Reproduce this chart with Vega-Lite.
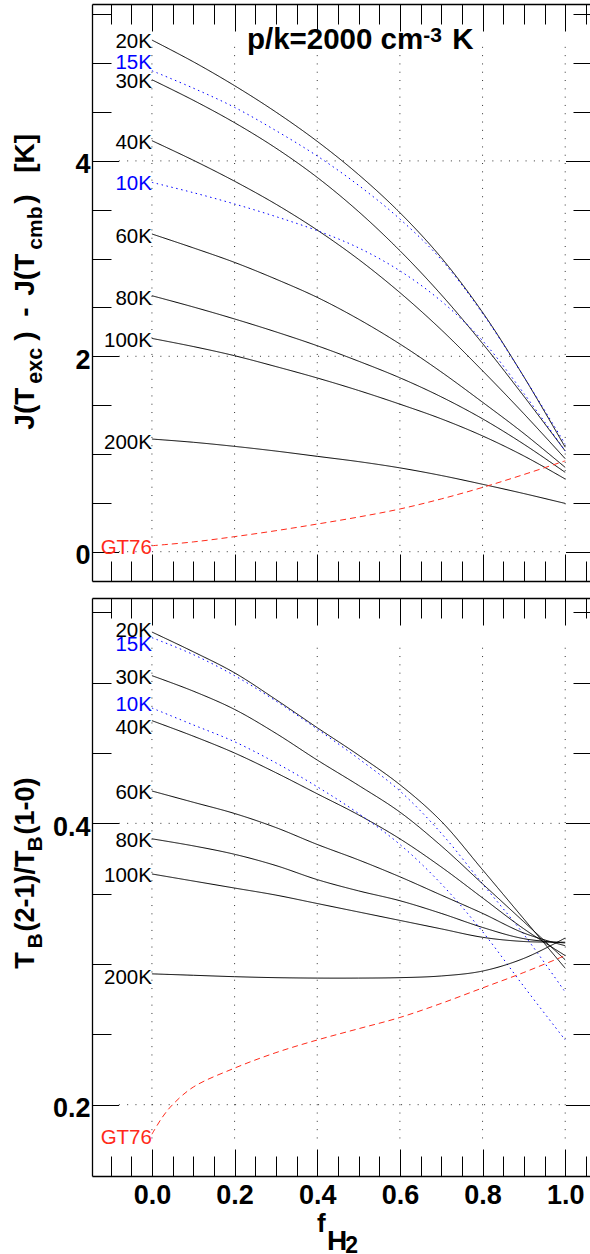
{
  "$schema": "https://vega.github.io/schema/vega-lite/v6.json",
  "background": "white",
  "padding": {"left": 12, "top": 3, "right": 0, "bottom": 0},
  "bounds": "flush",
  "spacing": 17,
  "config": {"view": {"stroke": null}, "font": "Liberation Sans"},
  "datasets": {
    "top": [
      {"s":"20K","f":0,"v":5.237},{"s":"20K","f":0.1,"v":5.015},{"s":"20K","f":0.2,"v":4.77},{"s":"20K","f":0.3,"v":4.50},{"s":"20K","f":0.4,"v":4.20},{"s":"20K","f":0.5,"v":3.86},{"s":"20K","f":0.6,"v":3.47},{"s":"20K","f":0.7,"v":3.01},{"s":"20K","f":0.8,"v":2.45},{"s":"20K","f":0.9,"v":1.79},{"s":"20K","f":1.0,"v":1.07},
      {"s":"15K","f":0,"v":4.923},{"s":"15K","f":0.1,"v":4.745},{"s":"15K","f":0.2,"v":4.548},{"s":"15K","f":0.3,"v":4.31},{"s":"15K","f":0.4,"v":4.05},{"s":"15K","f":0.5,"v":3.75},{"s":"15K","f":0.6,"v":3.405},{"s":"15K","f":0.7,"v":2.99},{"s":"15K","f":0.8,"v":2.44},{"s":"15K","f":0.9,"v":1.79},{"s":"15K","f":1.0,"v":1.10},
      {"s":"30K","f":0,"v":4.831},{"s":"30K","f":0.1,"v":4.621},{"s":"30K","f":0.2,"v":4.391},{"s":"30K","f":0.3,"v":4.131},{"s":"30K","f":0.4,"v":3.831},{"s":"30K","f":0.5,"v":3.481},{"s":"30K","f":0.6,"v":3.081},{"s":"30K","f":0.7,"v":2.631},{"s":"30K","f":0.8,"v":2.131},{"s":"30K","f":0.9,"v":1.591},{"s":"30K","f":1.0,"v":1.031},
      {"s":"40K","f":0,"v":4.207},{"s":"40K","f":0.1,"v":4.007},{"s":"40K","f":0.2,"v":3.792},{"s":"40K","f":0.3,"v":3.557},{"s":"40K","f":0.4,"v":3.292},{"s":"40K","f":0.5,"v":2.992},{"s":"40K","f":0.6,"v":2.652},{"s":"40K","f":0.7,"v":2.272},{"s":"40K","f":0.8,"v":1.852},{"s":"40K","f":0.9,"v":1.412},{"s":"40K","f":1.0,"v":0.952},
      {"s":"10K","f":0,"v":3.78},{"s":"10K","f":0.1,"v":3.675},{"s":"10K","f":0.2,"v":3.559},{"s":"10K","f":0.3,"v":3.43},{"s":"10K","f":0.4,"v":3.286},{"s":"10K","f":0.5,"v":3.11},{"s":"10K","f":0.6,"v":2.875},{"s":"10K","f":0.7,"v":2.565},{"s":"10K","f":0.8,"v":2.16},{"s":"10K","f":0.9,"v":1.62},{"s":"10K","f":1.0,"v":1.03},
      {"s":"60K","f":0,"v":3.252},{"s":"60K","f":0.1,"v":3.11},{"s":"60K","f":0.2,"v":2.961},{"s":"60K","f":0.3,"v":2.79},{"s":"60K","f":0.4,"v":2.603},{"s":"60K","f":0.5,"v":2.38},{"s":"60K","f":0.6,"v":2.126},{"s":"60K","f":0.7,"v":1.84},{"s":"60K","f":0.8,"v":1.53},{"s":"60K","f":0.9,"v":1.21},{"s":"60K","f":1.0,"v":0.863},
      {"s":"80K","f":0,"v":2.62},{"s":"80K","f":0.1,"v":2.505},{"s":"80K","f":0.2,"v":2.382},{"s":"80K","f":0.3,"v":2.25},{"s":"80K","f":0.4,"v":2.108},{"s":"80K","f":0.5,"v":1.95},{"s":"80K","f":0.6,"v":1.78},{"s":"80K","f":0.7,"v":1.585},{"s":"80K","f":0.8,"v":1.36},{"s":"80K","f":0.9,"v":1.10},{"s":"80K","f":1.0,"v":0.812},
      {"s":"100K","f":0,"v":2.183},{"s":"100K","f":0.1,"v":2.10},{"s":"100K","f":0.2,"v":2.006},{"s":"100K","f":0.3,"v":1.895},{"s":"100K","f":0.4,"v":1.778},{"s":"100K","f":0.5,"v":1.65},{"s":"100K","f":0.6,"v":1.51},{"s":"100K","f":0.7,"v":1.36},{"s":"100K","f":0.8,"v":1.185},{"s":"100K","f":0.9,"v":0.98},{"s":"100K","f":1.0,"v":0.744},
      {"s":"200K","f":0,"v":1.153},{"s":"200K","f":0.1,"v":1.12},{"s":"200K","f":0.2,"v":1.078},{"s":"200K","f":0.3,"v":1.03},{"s":"200K","f":0.4,"v":0.976},{"s":"200K","f":0.5,"v":0.922},{"s":"200K","f":0.6,"v":0.858},{"s":"200K","f":0.7,"v":0.78},{"s":"200K","f":0.8,"v":0.69},{"s":"200K","f":0.9,"v":0.595},{"s":"200K","f":1.0,"v":0.494},
      {"s":"GT76","f":0,"v":0.061},{"s":"GT76","f":0.1,"v":0.10},{"s":"GT76","f":0.2,"v":0.154},{"s":"GT76","f":0.3,"v":0.215},{"s":"GT76","f":0.4,"v":0.283},{"s":"GT76","f":0.5,"v":0.355},{"s":"GT76","f":0.6,"v":0.437},{"s":"GT76","f":0.7,"v":0.54},{"s":"GT76","f":0.8,"v":0.658},{"s":"GT76","f":0.9,"v":0.79},{"s":"GT76","f":1.0,"v":0.93}
    ],
    "bot": [
      {"s":"20K","f":0,"v":0.536},{"s":"20K","f":0.1,"v":0.522},{"s":"20K","f":0.2,"v":0.507},{"s":"20K","f":0.3,"v":0.488},{"s":"20K","f":0.4,"v":0.468},{"s":"20K","f":0.5,"v":0.4485},{"s":"20K","f":0.6,"v":0.4275},{"s":"20K","f":0.7,"v":0.4015},{"s":"20K","f":0.8,"v":0.367},{"s":"20K","f":0.9,"v":0.332},{"s":"20K","f":1.0,"v":0.297},
      {"s":"15K","f":0,"v":0.532},{"s":"15K","f":0.1,"v":0.520},{"s":"15K","f":0.2,"v":0.505},{"s":"15K","f":0.3,"v":0.487},{"s":"15K","f":0.4,"v":0.467},{"s":"15K","f":0.5,"v":0.446},{"s":"15K","f":0.6,"v":0.423},{"s":"15K","f":0.7,"v":0.393},{"s":"15K","f":0.8,"v":0.357},{"s":"15K","f":0.9,"v":0.321},{"s":"15K","f":1.0,"v":0.280},
      {"s":"30K","f":0,"v":0.505},{"s":"30K","f":0.1,"v":0.494},{"s":"30K","f":0.2,"v":0.481},{"s":"30K","f":0.3,"v":0.464},{"s":"30K","f":0.4,"v":0.445},{"s":"30K","f":0.5,"v":0.427},{"s":"30K","f":0.6,"v":0.408},{"s":"30K","f":0.7,"v":0.384},{"s":"30K","f":0.8,"v":0.357},{"s":"30K","f":0.9,"v":0.330},{"s":"30K","f":1.0,"v":0.303},
      {"s":"40K","f":0,"v":0.473},{"s":"40K","f":0.1,"v":0.462},{"s":"40K","f":0.2,"v":0.450},{"s":"40K","f":0.3,"v":0.436},{"s":"40K","f":0.4,"v":0.421},{"s":"40K","f":0.5,"v":0.406},{"s":"40K","f":0.6,"v":0.389},{"s":"40K","f":0.7,"v":0.369},{"s":"40K","f":0.8,"v":0.347},{"s":"40K","f":0.9,"v":0.325},{"s":"40K","f":1.0,"v":0.306},
      {"s":"10K","f":0,"v":0.482},{"s":"10K","f":0.1,"v":0.470},{"s":"10K","f":0.2,"v":0.458},{"s":"10K","f":0.3,"v":0.443},{"s":"10K","f":0.4,"v":0.426},{"s":"10K","f":0.5,"v":0.407},{"s":"10K","f":0.6,"v":0.385},{"s":"10K","f":0.7,"v":0.357},{"s":"10K","f":0.8,"v":0.323},{"s":"10K","f":0.9,"v":0.284},{"s":"10K","f":1.0,"v":0.246},
      {"s":"60K","f":0,"v":0.423},{"s":"60K","f":0.1,"v":0.415},{"s":"60K","f":0.2,"v":0.407},{"s":"60K","f":0.3,"v":0.397},{"s":"60K","f":0.4,"v":0.385},{"s":"60K","f":0.5,"v":0.374},{"s":"60K","f":0.6,"v":0.362},{"s":"60K","f":0.7,"v":0.349},{"s":"60K","f":0.8,"v":0.336},{"s":"60K","f":0.9,"v":0.322},{"s":"60K","f":1.0,"v":0.313},
      {"s":"80K","f":0,"v":0.389},{"s":"80K","f":0.1,"v":0.384},{"s":"80K","f":0.2,"v":0.378},{"s":"80K","f":0.3,"v":0.370},{"s":"80K","f":0.4,"v":0.360},{"s":"80K","f":0.5,"v":0.352},{"s":"80K","f":0.6,"v":0.345},{"s":"80K","f":0.7,"v":0.336},{"s":"80K","f":0.8,"v":0.326},{"s":"80K","f":0.9,"v":0.318},{"s":"80K","f":1.0,"v":0.315},
      {"s":"100K","f":0,"v":0.364},{"s":"100K","f":0.1,"v":0.359},{"s":"100K","f":0.2,"v":0.354},{"s":"100K","f":0.3,"v":0.349},{"s":"100K","f":0.4,"v":0.343},{"s":"100K","f":0.5,"v":0.337},{"s":"100K","f":0.6,"v":0.331},{"s":"100K","f":0.7,"v":0.325},{"s":"100K","f":0.8,"v":0.319},{"s":"100K","f":0.9,"v":0.316},{"s":"100K","f":1.0,"v":0.3155},
      {"s":"200K","f":0,"v":0.293},{"s":"200K","f":0.1,"v":0.292},{"s":"200K","f":0.2,"v":0.291},{"s":"200K","f":0.3,"v":0.2903},{"s":"200K","f":0.4,"v":0.290},{"s":"200K","f":0.5,"v":0.290},{"s":"200K","f":0.6,"v":0.2903},{"s":"200K","f":0.7,"v":0.2915},{"s":"200K","f":0.8,"v":0.295},{"s":"200K","f":0.9,"v":0.304},{"s":"200K","f":1.0,"v":0.3185},
      {"s":"GT76","f":0,"v":0.179},{"s":"GT76","f":0.025,"v":0.191},{"s":"GT76","f":0.05,"v":0.200},{"s":"GT76","f":0.1,"v":0.2125},{"s":"GT76","f":0.2,"v":0.226},{"s":"GT76","f":0.3,"v":0.237},{"s":"GT76","f":0.4,"v":0.246},{"s":"GT76","f":0.5,"v":0.254},{"s":"GT76","f":0.6,"v":0.262},{"s":"GT76","f":0.7,"v":0.272},{"s":"GT76","f":0.8,"v":0.283},{"s":"GT76","f":0.9,"v":0.294},{"s":"GT76","f":1.0,"v":0.306}
    ],
    "labTop": [
      {"s":"20K","v":5.222},{"s":"15K","v":5.0},{"s":"30K","v":4.809},{"s":"40K","v":4.181},{"s":"10K","v":3.76},{"s":"60K","v":3.217},{"s":"80K","v":2.584},{"s":"100K","v":2.156},{"s":"200K","v":1.116},{"s":"GT76","v":0.036}
    ],
    "labBot": [
      {"s":"20K","v":0.5364},{"s":"15K","v":0.5269},{"s":"30K","v":0.5032},{"s":"10K","v":0.4842},{"s":"40K","v":0.468},{"s":"60K","v":0.4215},{"s":"80K","v":0.3871},{"s":"100K","v":0.3623},{"s":"200K","v":0.2903},{"s":"GT76","v":0.1762}
    ],
    "gx": [{"g":0},{"g":0.2},{"g":0.4},{"g":0.6},{"g":0.8},{"g":1.0}],
    "gyTop": [{"h":0},{"h":2},{"h":4}],
    "gyBot": [{"h":0.2},{"h":0.4}],
    "one": [{}]
  },
  "vconcat": [
    {
      "width": 498, "height": 577,
      "data": {"name": "top"},
      "resolve": {"axis": {"x": "independent", "y": "independent"}},
      "layer": [
        {
          "data": {"name": "gx"},
          "mark": {"type": "rule", "strokeDash": [1, 7.3], "color": "#333", "strokeWidth": 1},
          "encoding": {
            "x": {"field": "g", "type": "quantitative", "axis": null},
            "y": {"datum": 0.06, "type": "quantitative", "axis": null},
            "y2": {"datum": 5.2}
          }
        },
        {
          "data": {"name": "gyTop"},
          "mark": {"type": "rule", "strokeDash": [1, 7.3], "color": "#333", "strokeWidth": 1},
          "encoding": {
            "y": {"field": "h", "type": "quantitative", "axis": null},
            "x": {"datum": -0.08, "type": "quantitative", "axis": null},
            "x2": {"datum": 1.0}
          }
        },
        {
          "mark": {"type": "line", "strokeWidth": 1, "interpolate": "catmull-rom"},
          "encoding": {
            "x": {"field": "f", "type": "quantitative", "scale": {"domain": [-0.145, 1.06], "nice": false, "zero": false},
              "axis": {"orient": "bottom", "values": [-0.1,-0.05,0,0.05,0.1,0.15,0.2,0.25,0.3,0.35,0.4,0.45,0.5,0.55,0.6,0.65,0.7,0.75,0.8,0.85,0.9,0.95,1.0,1.05], "labels": false, "grid": false, "title": null, "domainColor": "#000", "domainWidth": 1.3, "tickColor": "#000", "tickWidth": 1,
                "tickSize": {"condition": {"test": "abs(datum.value*5 - round(datum.value*5)) < 0.001", "value": -27}, "value": -20}}},
            "y": {"field": "v", "type": "quantitative", "scale": {"domain": [-0.3, 5.606], "nice": false, "zero": false},
              "axis": {"orient": "left", "values": [0,0.5,1,1.5,2,2.5,3,3.5,4,4.5,5,5.5], "grid": false, "title": null, "domainColor": "#000", "domainWidth": 1.3, "tickColor": "#000", "tickWidth": 1,
                "tickSize": {"condition": {"test": "abs(datum.value/2 - round(datum.value/2)) < 0.001", "value": -26.5}, "value": -19},
                "labelExpr": "abs(datum.value/2 - round(datum.value/2)) < 0.001 ? format(datum.value, 'd') : ''",
                "labelFont": "Liberation Sans", "labelFontSize": 27, "labelFontWeight": "bold", "labelColor": "#000", "labelPadding": 28.5, "labelOffset": 4, "labelFlush": false, "labelOverlap": false}},
            "color": {"field": "s", "type": "nominal", "legend": null,
              "scale": {"domain": ["20K","15K","30K","40K","10K","60K","80K","100K","200K","GT76"], "range": ["#000000","#0000ff","#000000","#000000","#0000ff","#000000","#000000","#000000","#000000","#ff2a1a"]}},
            "strokeDash": {"field": "s", "type": "nominal", "legend": null,
              "scale": {"domain": ["20K","15K","30K","40K","10K","60K","80K","100K","200K","GT76"], "range": [[1,0],[1.5,3.5],[1,0],[1,0],[1.5,3.5],[1,0],[1,0],[1,0],[1,0],[6,4]]}}
          }
        },
        {
          "mark": {"type": "point", "opacity": 0},
          "encoding": {
            "x": {"field": "f", "type": "quantitative",
              "axis": {"orient": "top", "values": [-0.1,-0.05,0,0.05,0.1,0.15,0.2,0.25,0.3,0.35,0.4,0.45,0.5,0.55,0.6,0.65,0.7,0.75,0.8,0.85,0.9,0.95,1.0,1.05], "labels": false, "grid": false, "title": null, "domainColor": "#000", "domainWidth": 1.3, "tickColor": "#000", "tickWidth": 1,
                "tickSize": {"condition": {"test": "abs(datum.value*5 - round(datum.value*5)) < 0.001", "value": -27}, "value": -20}}},
            "y": {"field": "v", "type": "quantitative",
              "axis": {"orient": "right", "values": [0,0.5,1,1.5,2,2.5,3,3.5,4,4.5,5,5.5], "labels": false, "grid": false, "title": null, "domain": false, "tickColor": "#000", "tickWidth": 1,
                "tickSize": {"condition": {"test": "abs(datum.value/2 - round(datum.value/2)) < 0.001", "value": -24.5}, "value": -17}}}
          }
        },
        {
          "data": {"name": "labTop"},
          "mark": {"type": "text", "align": "right", "baseline": "middle", "fontSize": 20.5, "font": "Liberation Sans"},
          "encoding": {
            "x": {"datum": 0, "type": "quantitative", "axis": null},
            "y": {"field": "v", "type": "quantitative", "axis": null},
            "text": {"field": "s"},
            "color": {"field": "s", "type": "nominal", "legend": null}
          }
        },
        {
          "data": {"name": "one"},
          "mark": {"type": "text", "text": "p/k=2000 cm", "align": "left", "baseline": "alphabetic", "fontSize": 29.5, "fontWeight": "bold", "font": "Liberation Sans", "color": "#000"},
          "encoding": {"x": {"datum": 0.2299, "type": "quantitative", "axis": null}, "y": {"datum": 5.145, "type": "quantitative", "axis": null}}
        },
        {
          "data": {"name": "one"},
          "mark": {"type": "text", "text": "-3", "align": "left", "baseline": "alphabetic", "fontSize": 21, "fontWeight": "bold", "font": "Liberation Sans", "color": "#000"},
          "encoding": {"x": {"datum": 0.6564, "type": "quantitative", "axis": null}, "y": {"datum": 5.213, "type": "quantitative", "axis": null}}
        },
        {
          "data": {"name": "one"},
          "mark": {"type": "text", "text": "K", "align": "left", "baseline": "alphabetic", "fontSize": 29.5, "fontWeight": "bold", "font": "Liberation Sans", "color": "#000"},
          "encoding": {"x": {"datum": 0.7266, "type": "quantitative", "axis": null}, "y": {"datum": 5.145, "type": "quantitative", "axis": null}}
        },
        {
          "data": {"name": "one"},
          "mark": {"type": "text", "text": "J(T", "angle": 270, "align": "left", "baseline": "alphabetic", "fontSize": 28, "fontWeight": "bold", "font": "Liberation Sans", "color": "#000"},
          "encoding": {"x": {"datum": -0.2848, "type": "quantitative", "axis": null}, "y": {"datum": 1.249, "type": "quantitative", "axis": null}}
        },
        {
          "data": {"name": "one"},
          "mark": {"type": "text", "text": "exc", "angle": 270, "align": "left", "baseline": "alphabetic", "fontSize": 21.5, "fontWeight": "bold", "font": "Liberation Sans", "color": "#000"},
          "encoding": {"x": {"datum": -0.2662, "type": "quantitative", "axis": null}, "y": {"datum": 1.72, "type": "quantitative", "axis": null}}
        },
        {
          "data": {"name": "one"},
          "mark": {"type": "text", "text": ")", "angle": 270, "align": "left", "baseline": "alphabetic", "fontSize": 28, "fontWeight": "bold", "font": "Liberation Sans", "color": "#000"},
          "encoding": {"x": {"datum": -0.2848, "type": "quantitative", "axis": null}, "y": {"datum": 2.16, "type": "quantitative", "axis": null}}
        },
        {
          "data": {"name": "one"},
          "mark": {"type": "text", "text": "-", "angle": 270, "align": "left", "baseline": "alphabetic", "fontSize": 28, "fontWeight": "bold", "font": "Liberation Sans", "color": "#000"},
          "encoding": {"x": {"datum": -0.2848, "type": "quantitative", "axis": null}, "y": {"datum": 2.405, "type": "quantitative", "axis": null}}
        },
        {
          "data": {"name": "one"},
          "mark": {"type": "text", "text": "J(T", "angle": 270, "align": "left", "baseline": "alphabetic", "fontSize": 28, "fontWeight": "bold", "font": "Liberation Sans", "color": "#000"},
          "encoding": {"x": {"datum": -0.2848, "type": "quantitative", "axis": null}, "y": {"datum": 2.62, "type": "quantitative", "axis": null}}
        },
        {
          "data": {"name": "one"},
          "mark": {"type": "text", "text": "cmb", "angle": 270, "align": "left", "baseline": "alphabetic", "fontSize": 21, "fontWeight": "bold", "font": "Liberation Sans", "color": "#000"},
          "encoding": {"x": {"datum": -0.2662, "type": "quantitative", "axis": null}, "y": {"datum": 3.091, "type": "quantitative", "axis": null}}
        },
        {
          "data": {"name": "one"},
          "mark": {"type": "text", "text": ")", "angle": 270, "align": "left", "baseline": "alphabetic", "fontSize": 28, "fontWeight": "bold", "font": "Liberation Sans", "color": "#000"},
          "encoding": {"x": {"datum": -0.2848, "type": "quantitative", "axis": null}, "y": {"datum": 3.562, "type": "quantitative", "axis": null}}
        },
        {
          "data": {"name": "one"},
          "mark": {"type": "text", "text": "[K]", "angle": 270, "align": "left", "baseline": "alphabetic", "fontSize": 28, "fontWeight": "bold", "font": "Liberation Sans", "color": "#000"},
          "encoding": {"x": {"datum": -0.2848, "type": "quantitative", "axis": null}, "y": {"datum": 3.879, "type": "quantitative", "axis": null}}
        }
      ]
    },
    {
      "width": 498, "height": 578,
      "data": {"name": "bot"},
      "resolve": {"axis": {"x": "independent", "y": "independent"}},
      "layer": [
        {
          "data": {"name": "gx"},
          "mark": {"type": "rule", "strokeDash": [1, 7.3], "color": "#333", "strokeWidth": 1},
          "encoding": {
            "x": {"field": "g", "type": "quantitative", "axis": null},
            "y": {"datum": 0.176, "type": "quantitative", "axis": null},
            "y2": {"datum": 0.53}
          }
        },
        {
          "data": {"name": "gyBot"},
          "mark": {"type": "rule", "strokeDash": [1, 7.3], "color": "#333", "strokeWidth": 1},
          "encoding": {
            "y": {"field": "h", "type": "quantitative", "axis": null},
            "x": {"datum": -0.08, "type": "quantitative", "axis": null},
            "x2": {"datum": 1.0}
          }
        },
        {
          "mark": {"type": "line", "strokeWidth": 1, "interpolate": "catmull-rom"},
          "encoding": {
            "x": {"field": "f", "type": "quantitative", "scale": {"domain": [-0.145, 1.06], "nice": false, "zero": false},
              "axis": {"orient": "bottom", "values": [-0.1,-0.05,0,0.05,0.1,0.15,0.2,0.25,0.3,0.35,0.4,0.45,0.5,0.55,0.6,0.65,0.7,0.75,0.8,0.85,0.9,0.95,1.0,1.05], "grid": false, "title": null, "domainColor": "#000", "domainWidth": 1.3, "tickColor": "#000", "tickWidth": 1,
                "tickSize": {"condition": {"test": "abs(datum.value*5 - round(datum.value*5)) < 0.001", "value": -27}, "value": -20},
                "labelExpr": "abs(datum.value*5 - round(datum.value*5)) < 0.001 ? format(datum.value, '.1f') : ''",
                "labelFont": "Liberation Sans", "labelFontSize": 27, "labelFontWeight": "bold", "labelColor": "#000", "labelPadding": 33, "labelFlush": false, "labelOverlap": false}},
            "y": {"field": "v", "type": "quantitative", "scale": {"domain": [0.1493, 0.5602], "nice": false, "zero": false},
              "axis": {"orient": "left", "values": [0.2,0.25,0.3,0.35,0.4,0.45,0.5,0.55], "grid": false, "title": null, "domainColor": "#000", "domainWidth": 1.3, "tickColor": "#000", "tickWidth": 1,
                "tickSize": {"condition": {"test": "abs(datum.value*5 - round(datum.value*5)) < 0.001", "value": -26.5}, "value": -19},
                "labelExpr": "abs(datum.value*5 - round(datum.value*5)) < 0.001 ? format(datum.value, '.1f') : ''",
                "labelFont": "Liberation Sans", "labelFontSize": 27, "labelFontWeight": "bold", "labelColor": "#000", "labelPadding": 28.5, "labelOffset": 4, "labelFlush": false, "labelOverlap": false}},
            "color": {"field": "s", "type": "nominal", "legend": null,
              "scale": {"domain": ["20K","15K","30K","40K","10K","60K","80K","100K","200K","GT76"], "range": ["#000000","#0000ff","#000000","#000000","#0000ff","#000000","#000000","#000000","#000000","#ff2a1a"]}},
            "strokeDash": {"field": "s", "type": "nominal", "legend": null,
              "scale": {"domain": ["20K","15K","30K","40K","10K","60K","80K","100K","200K","GT76"], "range": [[1,0],[1.5,3.5],[1,0],[1,0],[1.5,3.5],[1,0],[1,0],[1,0],[1,0],[6,4]]}}
          }
        },
        {
          "mark": {"type": "point", "opacity": 0},
          "encoding": {
            "x": {"field": "f", "type": "quantitative",
              "axis": {"orient": "top", "values": [-0.1,-0.05,0,0.05,0.1,0.15,0.2,0.25,0.3,0.35,0.4,0.45,0.5,0.55,0.6,0.65,0.7,0.75,0.8,0.85,0.9,0.95,1.0,1.05], "labels": false, "grid": false, "title": null, "domainColor": "#000", "domainWidth": 1.3, "tickColor": "#000", "tickWidth": 1,
                "tickSize": {"condition": {"test": "abs(datum.value*5 - round(datum.value*5)) < 0.001", "value": -27}, "value": -20}}},
            "y": {"field": "v", "type": "quantitative",
              "axis": {"orient": "right", "values": [0.2,0.25,0.3,0.35,0.4,0.45,0.5,0.55], "labels": false, "grid": false, "title": null, "domain": false, "tickColor": "#000", "tickWidth": 1,
                "tickSize": {"condition": {"test": "abs(datum.value*5 - round(datum.value*5)) < 0.001", "value": -24.5}, "value": -17}}}
          }
        },
        {
          "data": {"name": "labBot"},
          "mark": {"type": "text", "align": "right", "baseline": "middle", "fontSize": 20.5, "font": "Liberation Sans"},
          "encoding": {
            "x": {"datum": 0, "type": "quantitative", "axis": null},
            "y": {"field": "v", "type": "quantitative", "axis": null},
            "text": {"field": "s"},
            "color": {"field": "s", "type": "nominal", "legend": null}
          }
        },
        {
          "data": {"name": "one"},
          "mark": {"type": "text", "text": "f", "align": "left", "baseline": "alphabetic", "fontSize": 26, "fontWeight": "bold", "font": "Liberation Sans", "color": "#000"},
          "encoding": {"x": {"datum": 0.3992, "type": "quantitative", "axis": null}, "y": {"datum": 0.1092, "type": "quantitative", "axis": null}}
        },
        {
          "data": {"name": "one"},
          "mark": {"type": "text", "text": "H", "align": "left", "baseline": "alphabetic", "fontSize": 28, "fontWeight": "bold", "font": "Liberation Sans", "color": "#000"},
          "encoding": {"x": {"datum": 0.4234, "type": "quantitative", "axis": null}, "y": {"datum": 0.0969, "type": "quantitative", "axis": null}}
        },
        {
          "data": {"name": "one"},
          "mark": {"type": "text", "text": "2", "align": "left", "baseline": "alphabetic", "fontSize": 23, "fontWeight": "bold", "font": "Liberation Sans", "color": "#000"},
          "encoding": {"x": {"datum": 0.4677, "type": "quantitative", "axis": null}, "y": {"datum": 0.0948, "type": "quantitative", "axis": null}}
        },
        {
          "data": {"name": "one"},
          "mark": {"type": "text", "text": "T", "angle": 270, "align": "left", "baseline": "alphabetic", "fontSize": 27, "fontWeight": "bold", "font": "Liberation Sans", "color": "#000"},
          "encoding": {"x": {"datum": -0.2848, "type": "quantitative", "axis": null}, "y": {"datum": 0.2966, "type": "quantitative", "axis": null}}
        },
        {
          "data": {"name": "one"},
          "mark": {"type": "text", "text": "B", "angle": 270, "align": "left", "baseline": "alphabetic", "fontSize": 21, "fontWeight": "bold", "font": "Liberation Sans", "color": "#000"},
          "encoding": {"x": {"datum": -0.2662, "type": "quantitative", "axis": null}, "y": {"datum": 0.311, "type": "quantitative", "axis": null}}
        },
        {
          "data": {"name": "one"},
          "mark": {"type": "text", "text": "(2-1)/T", "angle": 270, "align": "left", "baseline": "alphabetic", "fontSize": 27, "fontWeight": "bold", "font": "Liberation Sans", "color": "#000"},
          "encoding": {"x": {"datum": -0.2848, "type": "quantitative", "axis": null}, "y": {"datum": 0.3231, "type": "quantitative", "axis": null}}
        },
        {
          "data": {"name": "one"},
          "mark": {"type": "text", "text": "B", "angle": 270, "align": "left", "baseline": "alphabetic", "fontSize": 21, "fontWeight": "bold", "font": "Liberation Sans", "color": "#000"},
          "encoding": {"x": {"datum": -0.2662, "type": "quantitative", "axis": null}, "y": {"datum": 0.38, "type": "quantitative", "axis": null}}
        },
        {
          "data": {"name": "one"},
          "mark": {"type": "text", "text": "(1-0)", "angle": 270, "align": "left", "baseline": "alphabetic", "fontSize": 27, "fontWeight": "bold", "font": "Liberation Sans", "color": "#000"},
          "encoding": {"x": {"datum": -0.2848, "type": "quantitative", "axis": null}, "y": {"datum": 0.3921, "type": "quantitative", "axis": null}}
        }
      ]
    }
  ]
}
